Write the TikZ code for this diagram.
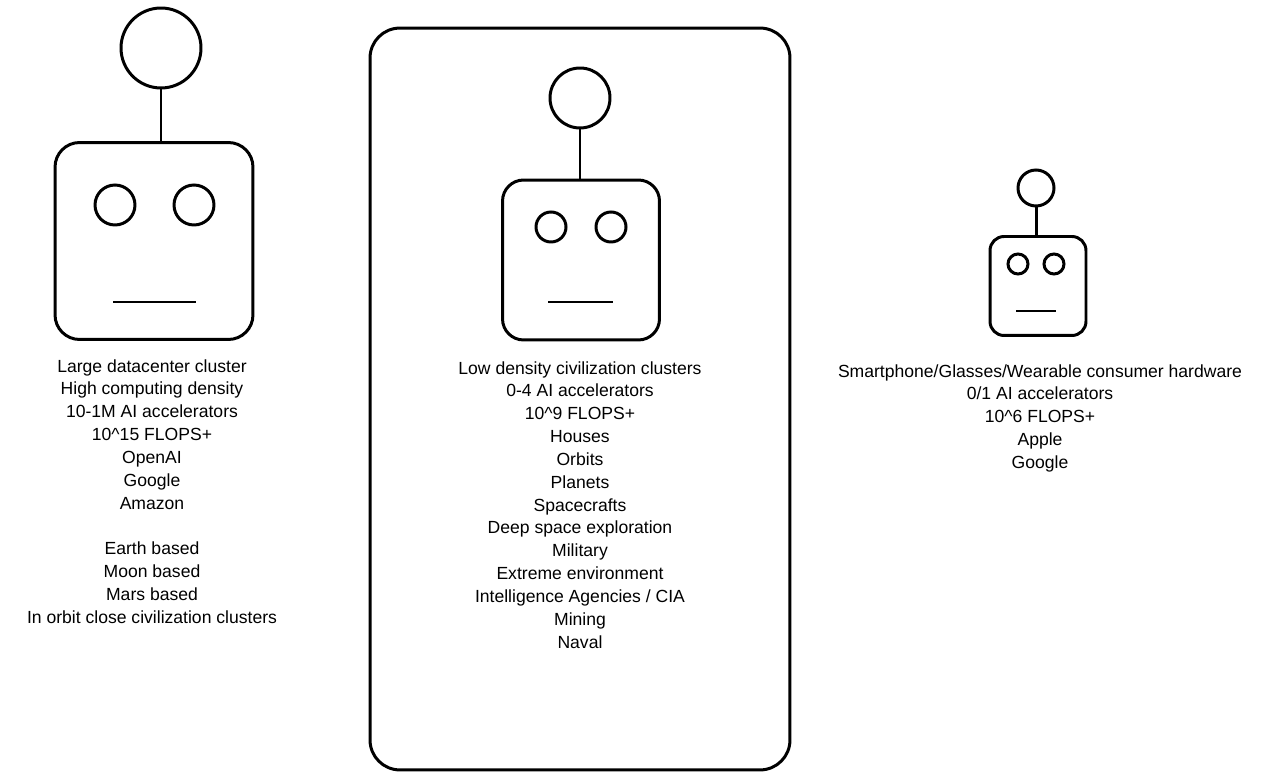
\documentclass[tikz,border=0pt]{standalone}
\usepackage{fontspec}
\setmainfont{Liberation Sans}
\usetikzlibrary{positioning}
\tikzset{
  bot/.style={line width=1.7pt},
  caption/.style={align=center, anchor=north, inner sep=0pt, font=\fontsize{10}{13}\selectfont}
}

\begin{document}
\begin{tikzpicture}[x=0.02cm, y=-0.02cm]
			\useasboundingbox (0, 0) rectangle (1279, 780);

			% frame round the middle group
			\node (Frame) [draw, line width=1.7pt, rounded corners=17pt, minimum width=8.4cm, minimum height=14.84cm] at (580, 399) {};

			% large robot
			\node (Head1) [draw, bot, rounded corners=14pt, minimum width=3.96cm, minimum height=3.94cm] at (154, 241) {};
			\node (Ant1) [draw, bot, circle, minimum size=1.6cm, inner sep=0pt] at (161, 48) {};
			\draw [bot] (Ant1) -- (Ant1 |- Head1.north);
			\node (EyeL1) [draw, bot, circle, minimum size=0.8cm, inner sep=0pt] at (115, 205) {};
			\node (EyeR1) [draw, bot, circle, minimum size=0.8cm, inner sep=0pt] at (194, 205) {};
			\draw [bot] (113, 302) -- (196, 302);
			\node (Text1) [caption] at (152, 359) {Large datacenter cluster\\High computing density\\10-1M AI accelerators\\10\^{}15 FLOPS+\\OpenAI\\Google\\Amazon\\[13pt]Earth based\\Moon based\\Mars based\\In orbit close civilization clusters};

			% middle robot
			\node (Head2) [draw, bot, rounded corners=12pt, minimum width=3.14cm, minimum height=3.2cm] at (581, 260) {};
			\node (Ant2) [draw, bot, circle, minimum size=1.2cm, inner sep=0pt] at (580, 98) {};
			\draw [bot] (Ant2) -- (Ant2 |- Head2.north);
			\node (EyeL2) [draw, bot, circle, minimum size=0.6cm, inner sep=0pt] at (551, 227) {};
			\node (EyeR2) [draw, bot, circle, minimum size=0.6cm, inner sep=0pt] at (611, 227) {};
			\draw [bot] (548, 302) -- (613, 302);
			\node (Text2) [caption] at (580, 361) {Low density civilization clusters\\0-4 AI accelerators\\10\^{}9 FLOPS+\\Houses\\Orbits\\Planets\\Spacecrafts\\Deep space exploration\\Military\\Extreme environment\\Intelligence Agencies / CIA\\Mining\\Naval};

			% small robot
			\node (Head3) [draw, bot, rounded corners=8pt, minimum width=1.92cm, minimum height=1.98cm] at (1038, 286) {};
			\node (Ant3) [draw, bot, circle, minimum size=0.72cm, inner sep=0pt] at (1036, 188) {};
			\draw [bot] (Ant3) -- (Ant3 |- Head3.north);
			\node (EyeL3) [draw, bot, circle, minimum size=0.4cm, inner sep=0pt] at (1018, 264) {};
			\node (EyeR3) [draw, bot, circle, minimum size=0.4cm, inner sep=0pt] at (1054, 264) {};
			\draw [bot] (1016, 311) -- (1056, 311);
			\node (Text3) [caption] at (1040, 364) {Smartphone/Glasses/Wearable consumer hardware\\0/1 AI accelerators\\10\^{}6 FLOPS+\\Apple\\Google};
		\end{tikzpicture}
\end{document}
